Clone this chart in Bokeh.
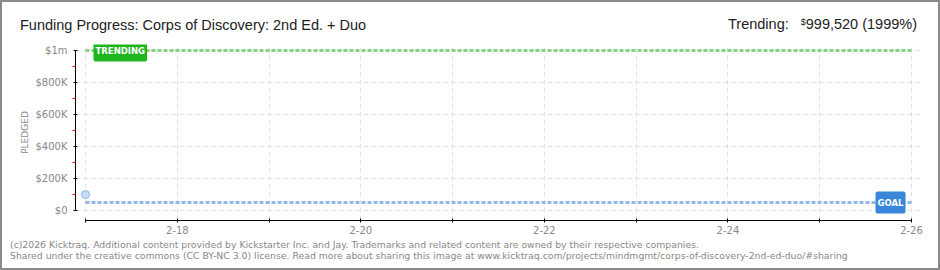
import pandas as pd
from bokeh.plotting import figure
from bokeh.models import Range1d, FixedTicker, Label, Div
from bokeh.layouts import column
from bokeh.embed import file_html
from bokeh.resources import INLINE

# ---------------- data ----------------
title_text = "Funding Progress: Corps of Discovery: 2nd Ed. + Duo"
campaign_start = "2026-02-17"
campaign_end = "2026-02-26"
pledge_dates = ["2026-02-17"]
pledge_values = [100000]
goal_value = 50000
trending_value = 999520
trending_pct = 1999
x_major_dates = ["2026-02-18", "2026-02-20", "2026-02-22", "2026-02-24", "2026-02-26"]
x_major_labels = ["2-18", "2-20", "2-22", "2-24", "2-26"]
x_minor_dates = ["2026-02-17", "2026-02-19", "2026-02-21", "2026-02-23", "2026-02-25"]
y_major_values = [0, 200000, 400000, 600000, 800000, 1000000]
y_major_labels = ["$0", "$200K", "$400K", "$600K", "$800K", "$1m"]
y_minor_values = [100000, 300000, 500000, 700000, 900000]
footer_lines = [
    "(c)2026 Kicktraq. Additional content provided by Kickstarter Inc. and Jay. Trademarks and related content are owned by their respective companies.",
    "Shared under the creative commons (CC BY-NC 3.0) license. Read more about sharing this image at www.kicktraq.com/projects/mindmgmt/corps-of-discovery-2nd-ed-duo/#sharing",
]

t0 = pd.Timestamp(campaign_start)


def day(d):
    return (pd.Timestamp(d) - t0).days


x_start = day(campaign_start)
x_end = day(campaign_end)
px_per_day = 826 / 9.0

HEAD_FONT = "'Liberation Sans', Arial, sans-serif"

# ---------------- header ----------------
header_html = (
    "<div style='position:relative;width:940px;height:40px;'>"
    f"<span style=\"position:absolute;left:20px;top:17px;line-height:16px;font-size:14.5px;"
    f"font-family:{HEAD_FONT};color:#222;white-space:nowrap;\">{title_text}</span>"
    f"<span style=\"position:absolute;right:23px;top:14px;line-height:16px;font-size:14.5px;"
    f"font-family:{HEAD_FONT};color:#222;white-space:nowrap;\">Trending:"
    f"<span style='margin-left:12px;font-size:9px;vertical-align:4px;'>$</span>"
    f"{trending_value:,} ({trending_pct}%)</span>"
    "</div>"
)
header = Div(text=header_html, width=940, height=40, margin=0)

# ---------------- figure (canvas y 40..240) ----------------
# frame: x 75..920, y 44..220 in page coordinates (y=0 at 210, 1M at 50)
p = figure(
    width=940, height=200,
    x_range=Range1d(x_start - 10 / px_per_day, x_end + 9 / px_per_day),
    y_range=Range1d(-62500, 1037500),
    output_backend="svg", toolbar_location=None,
    min_border_left=75, min_border_right=20, min_border_top=4, min_border_bottom=20,
    background_fill_color="white", border_fill_color=None, margin=0,
)
p.outline_line_color = None

# ---- x axis ----
xa = p.xaxis[0]
xa.ticker = FixedTicker(ticks=[day(d) for d in x_major_dates], minor_ticks=[day(d) for d in x_minor_dates])
xa.major_label_overrides = {day(d): lab for d, lab in zip(x_major_dates, x_major_labels)}
xa.bounds = (x_start, x_end)
xa.axis_line_color = "black"
xa.major_tick_line_color = "black"
xa.minor_tick_line_color = "black"
xa.major_tick_in = 2
xa.major_tick_out = 2
xa.minor_tick_in = 2
xa.minor_tick_out = 2
xa.major_label_standoff = 3
xa.major_label_text_font = "DejaVu Sans"
xa.major_label_text_font_size = "10px"
xa.major_label_text_color = "#888888"

# ---- y axis ----
ya = p.yaxis[0]
ya.ticker = FixedTicker(ticks=y_major_values, minor_ticks=y_minor_values)
ya.major_label_overrides = {v: lab for v, lab in zip(y_major_values, y_major_labels)}
ya.bounds = (y_major_values[0], y_major_values[-1])
ya.axis_line_color = "black"
ya.major_tick_line_color = "black"
ya.minor_tick_line_color = "red"
ya.major_tick_in = 2
ya.major_tick_out = 2
ya.minor_tick_in = 0
ya.minor_tick_out = 3
ya.major_label_standoff = 5
ya.major_label_text_font = "DejaVu Sans"
ya.major_label_text_font_size = "10px"
ya.major_label_text_color = "#888888"
ya.axis_label = "PLEDGED"
ya.axis_label_text_font = "DejaVu Sans"
ya.axis_label_text_font_size = "9px"
ya.axis_label_text_font_style = "normal"
ya.axis_label_text_color = "#888888"
ya.axis_label_standoff = 2

# ---- grids ----
p.xgrid.grid_line_color = "#e2e2e2"
p.xgrid.grid_line_dash = "5 3"
p.xgrid.minor_grid_line_color = "#e2e2e2"
p.xgrid.minor_grid_line_dash = "5 3"
p.ygrid.grid_line_color = "#e2e2e2"
p.ygrid.grid_line_dash = "5 3"

# ---- lines ----
p.line(x=[x_start, x_end], y=[trending_value, trending_value],
       line_color="#86d386", line_width=3, line_dash="4 2")
p.line(x=[x_start, x_end], y=[goal_value, goal_value],
       line_color="#93b8e8", line_width=3, line_dash="4 2")

p.scatter(x=[day(d) for d in pledge_dates], y=pledge_values, size=8,
          fill_color="#c6dbf5", line_color="#8db3e2", line_width=1)

# ---- badges ----
p.add_layout(Label(x=x_start, y=trending_value, x_offset=8, text="TRENDING",
                   text_baseline="middle", text_align="left",
                   text_font="DejaVu Sans", text_font_size="8.5px", text_font_style="bold",
                   text_color="white", background_fill_color="#1fb51f",
                   padding=(2, 6), border_radius=2))
p.add_layout(Label(x=x_end, y=goal_value, x_offset=-6, text="GOAL",
                   text_baseline="middle", text_align="right",
                   text_font="DejaVu Sans", text_font_size="8.5px", text_font_style="bold",
                   text_color="white", background_fill_color="#3a86d8",
                   padding=(2, 6), border_radius=2))

# ---------------- footer ----------------
footer_html = "<div style='position:relative;width:940px;height:30px;'>" + "".join(
    f"<span style=\"position:absolute;left:10px;top:{-1 + 11 * i}px;line-height:11px;font-size:9.3px;"
    f"font-family:'DejaVu Sans',Verdana,sans-serif;color:#888;white-space:nowrap;\">{line}</span>"
    for i, line in enumerate(footer_lines)
) + "</div>"
footer = Div(text=footer_html, width=940, height=30, margin=0)

layout = column(header, p, footer, width=940, height=270, spacing=0, margin=0,
                styles={"box-shadow": "inset 0 0 0 2px #8a8a8a", "background": "white"})

open("out.html", "w").write(file_html(layout, INLINE))
